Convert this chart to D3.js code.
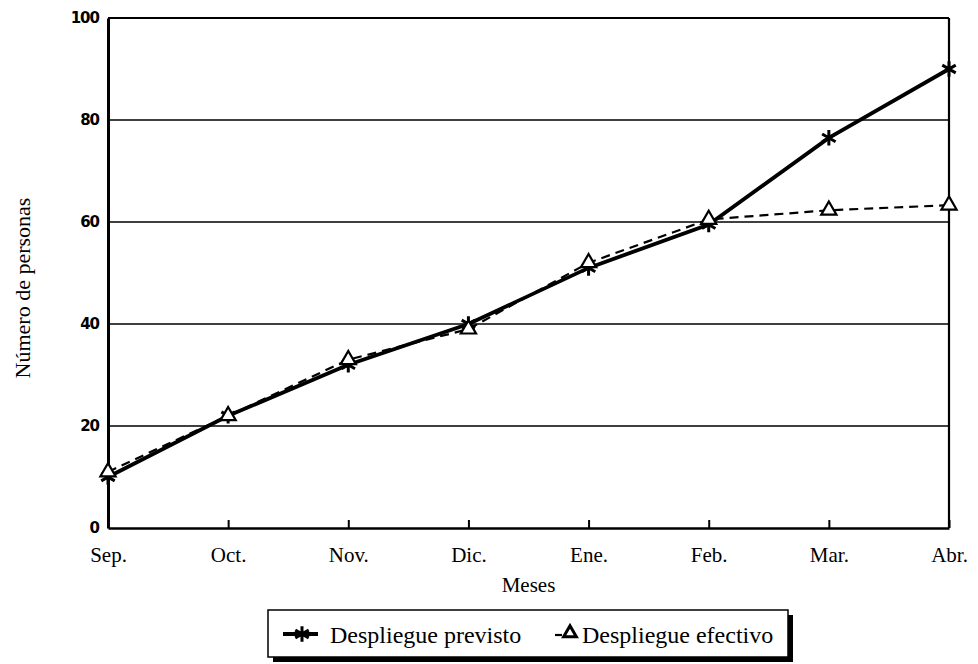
<!DOCTYPE html>
<html>
<head>
<meta charset="utf-8">
<script src="https://cdn.jsdelivr.net/npm/d3@7"></script>
<style>
  body { margin: 0; background: #fff; }
  svg { display: block; }
</style>
</head>
<body>
<svg id="chart"></svg>
<script>
const width = 978;
const height = 664;
const margin = { left: 108, right: 29, top: 18, bottom: 136 };

const innerWidth  = width  - margin.left - margin.right;
const innerHeight = height - margin.top  - margin.bottom;

// data
const months = ["Sep.", "Oct.", "Nov.", "Dic.", "Ene.", "Feb.", "Mar.", "Abr."];
const previsto = [10, 22, 32, 40, 51, 59.5, 76.5, 90];
const efectivo = [11, 22, 33, 39, 52, 60.5, 62.3, 63.3];
const yTicks = [0, 20, 40, 60, 80, 100];
const seriesNames = ["Despliegue previsto", "Despliegue efectivo"];

const serif = "'Liberation Serif', 'Times New Roman', serif";
const heavy = "'DejaVu Sans', 'Liberation Sans', sans-serif";

const svg = d3.select("#chart")
  .attr("width", width)
  .attr("height", height);

const g = svg.append("g")
  .attr("transform", `translate(${margin.left},${margin.top})`);

const x = d3.scalePoint()
  .domain(months)
  .range([0, innerWidth]);

const y = d3.scaleLinear()
  .domain([0, 100])
  .range([innerHeight, 0]);

// gridlines
g.append("g")
  .selectAll("line")
  .data(yTicks.filter(d => d > 0))
  .enter()
  .append("line")
  .attr("x1", 0)
  .attr("x2", innerWidth)
  .attr("y1", d => y(d))
  .attr("y2", d => y(d))
  .attr("stroke", "#000")
  .attr("stroke-width", d => d === 100 ? 2.2 : 1.6);

// right frame line
g.append("line")
  .attr("x1", innerWidth).attr("x2", innerWidth)
  .attr("y1", 0).attr("y2", innerHeight)
  .attr("stroke", "#000")
  .attr("stroke-width", 2.2);

// y axis
const yAxis = g.append("g")
  .call(d3.axisLeft(y).tickValues(yTicks).tickSize(0).tickPadding(9));
yAxis.select(".domain").attr("stroke-width", 3);
yAxis.selectAll("text")
  .style("font-family", heavy)
  .style("font-weight", "900")
  .style("font-size", "15px")
  .style("letter-spacing", "-1px")
  .attr("fill", "#000");

// x axis with inward ticks
const xAxis = g.append("g")
  .attr("transform", `translate(0,${innerHeight})`)
  .call(d3.axisBottom(x).tickSize(-8).tickSizeOuter(0).tickPadding(19));
xAxis.select(".domain").attr("stroke-width", 2.5);
xAxis.selectAll(".tick line").attr("stroke-width", 2);
xAxis.selectAll("text")
  .style("font-family", serif)
  .style("font-size", "21px")
  .attr("fill", "#000");

// axis titles
g.append("text")
  .attr("x", innerWidth / 2)
  .attr("y", innerHeight + 64)
  .attr("text-anchor", "middle")
  .style("font-family", serif)
  .style("font-size", "21px")
  .text("Meses");

svg.append("text")
  .attr("transform", "translate(30,288) rotate(-90)")
  .attr("text-anchor", "middle")
  .style("font-family", serif)
  .style("font-size", "22px")
  .text("Número de personas");

// lines
const line = d3.line()
  .x((d, i) => x(months[i]))
  .y(d => y(d));

g.append("path")
  .datum(efectivo)
  .attr("fill", "none")
  .attr("stroke", "#000")
  .attr("stroke-width", 2.2)
  .attr("stroke-dasharray", "9,6")
  .attr("d", line);

g.append("path")
  .datum(previsto)
  .attr("fill", "none")
  .attr("stroke", "#000")
  .attr("stroke-width", 3.8)
  .attr("d", line);

const star = d3.symbol().type(d3.symbolAsterisk).size(170);
const tri = d3.symbol().type(d3.symbolTriangle).size(100);

g.selectAll(".star")
  .data(previsto)
  .enter()
  .append("path")
  .attr("class", "star")
  .attr("transform", (d, i) => `translate(${x(months[i])},${y(d)})`)
  .attr("d", star)
  .attr("fill", "none")
  .attr("stroke", "#000")
  .attr("stroke-width", 3);

g.selectAll(".tri")
  .data(efectivo)
  .enter()
  .append("path")
  .attr("class", "tri")
  .attr("transform", (d, i) => `translate(${x(months[i])},${y(d)})`)
  .attr("d", tri)
  .attr("fill", "#fff")
  .attr("stroke", "#000")
  .attr("stroke-width", 2.2);

// legend
const legend = svg.append("g").attr("transform", "translate(268,610)");
const boxW = 520, boxH = 47;
legend.append("rect")
  .attr("x", 5).attr("y", 5)
  .attr("width", boxW).attr("height", boxH)
  .attr("fill", "#000");
legend.append("rect")
  .attr("x", 0).attr("y", 0)
  .attr("width", boxW).attr("height", boxH)
  .attr("fill", "#fff")
  .attr("stroke", "#000")
  .attr("stroke-width", 1.5);

legend.append("line")
  .attr("x1", 15).attr("x2", 50)
  .attr("y1", 24).attr("y2", 24)
  .attr("stroke", "#000")
  .attr("stroke-width", 3.8);
legend.append("path")
  .attr("transform", "translate(34,24)")
  .attr("d", star)
  .attr("fill", "none")
  .attr("stroke", "#000")
  .attr("stroke-width", 3);
legend.append("text")
  .attr("x", 62).attr("y", 33)
  .style("font-family", serif)
  .style("font-size", "24px")
  .text(seriesNames[0]);

legend.append("line")
  .attr("x1", 287).attr("x2", 294)
  .attr("y1", 25).attr("y2", 25)
  .attr("stroke", "#000")
  .attr("stroke-width", 2.2);
legend.append("path")
  .attr("transform", "translate(302,23)")
  .attr("d", d3.symbol().type(d3.symbolTriangle).size(70))
  .attr("fill", "#fff")
  .attr("stroke", "#000")
  .attr("stroke-width", 3);
legend.append("text")
  .attr("x", 314).attr("y", 33)
  .style("font-family", serif)
  .style("font-size", "24px")
  .text(seriesNames[1]);
</script>
</body>
</html>
